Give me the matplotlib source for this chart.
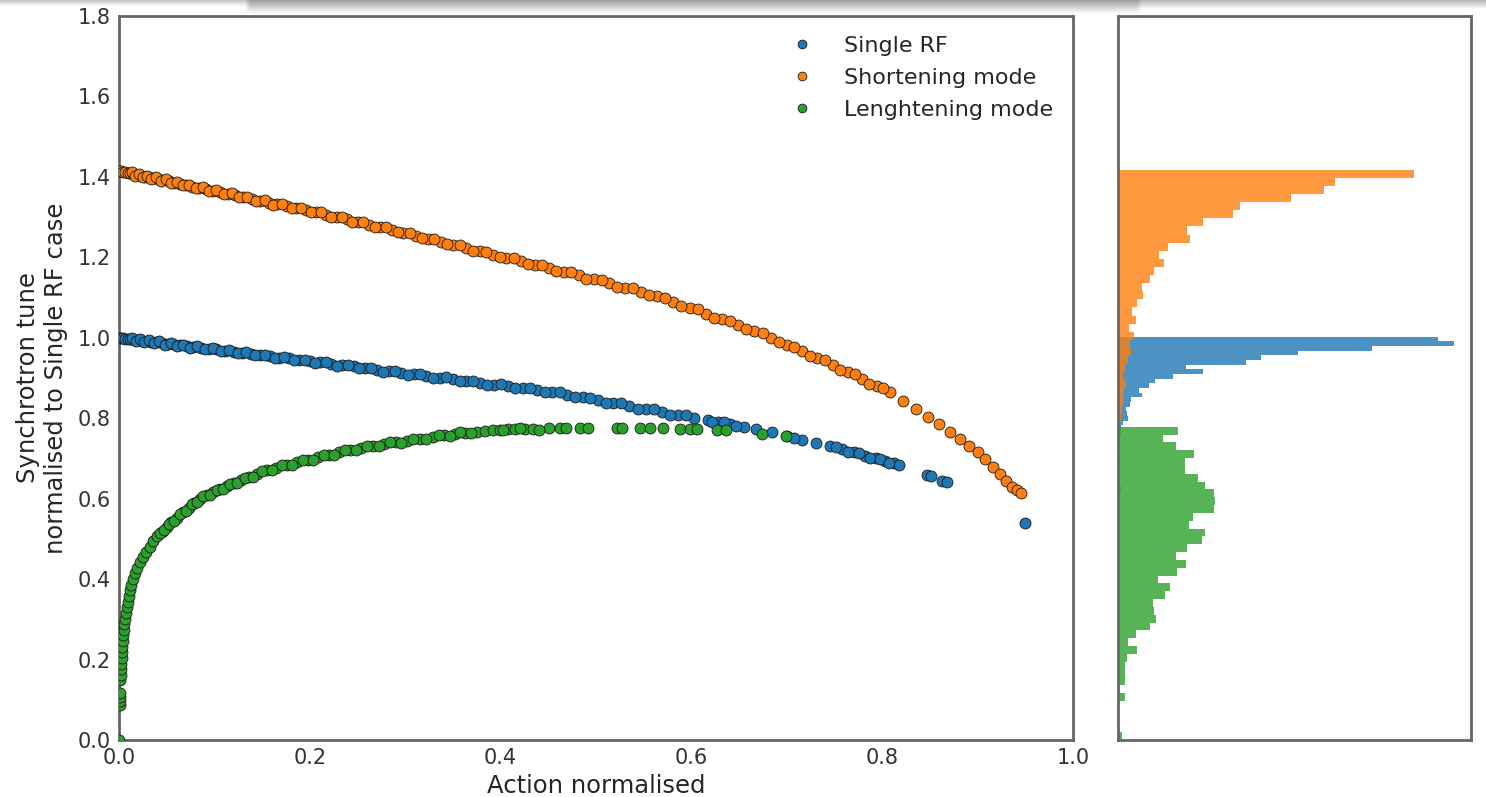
import numpy as np
import matplotlib
matplotlib.use("Agg")
import matplotlib.pyplot as plt

# --- scatter data ---
single_x = [0.000, 0.002, 0.004, 0.006, 0.009, 0.012, 0.016, 0.020, 0.024, 0.029,
            0.034, 0.039, 0.045, 0.051, 0.057, 0.064, 0.071, 0.078, 0.086, 0.094,
            0.102, 0.111, 0.120, 0.129, 0.138, 0.148, 0.158, 0.168, 0.178, 0.189,
            0.200, 0.211, 0.222, 0.234, 0.246, 0.258, 0.270, 0.283, 0.296, 0.309,
            0.322, 0.336, 0.350, 0.364, 0.378, 0.393, 0.408, 0.423, 0.438, 0.454,
            0.470, 0.486, 0.502, 0.518, 0.535, 0.552, 0.569, 0.586, 0.603, 0.617,
            0.628, 0.640, 0.655, 0.668, 0.684, 0.700, 0.716, 0.731, 0.745, 0.758,
            0.770, 0.782, 0.793, 0.803, 0.812, 0.818, 0.847, 0.851, 0.863, 0.868,
            0.950]
single_y = [1.000, 0.999, 0.999, 0.998, 0.997, 0.997, 0.995, 0.994, 0.993, 0.992,
            0.990, 0.989, 0.987, 0.985, 0.984, 0.982, 0.979, 0.977, 0.975, 0.973,
            0.971, 0.968, 0.965, 0.963, 0.960, 0.957, 0.954, 0.951, 0.949, 0.945,
            0.942, 0.939, 0.936, 0.932, 0.929, 0.925, 0.921, 0.917, 0.913, 0.909,
            0.905, 0.901, 0.897, 0.892, 0.888, 0.883, 0.879, 0.874, 0.869, 0.864,
            0.859, 0.852, 0.845, 0.838, 0.830, 0.823, 0.815, 0.808, 0.800, 0.795,
            0.790, 0.785, 0.778, 0.773, 0.765, 0.756, 0.747, 0.739, 0.731, 0.723,
            0.715, 0.707, 0.700, 0.694, 0.688, 0.683, 0.660, 0.657, 0.645, 0.641,
            0.539]
# more single RF points where the band is dense
single_x2 = [0.014, 0.018, 0.022, 0.0265, 0.0315, 0.0365, 0.042, 0.048, 0.054, 0.0605,
             0.0675, 0.0745, 0.082, 0.090, 0.098, 0.1065, 0.1155, 0.1245, 0.1335, 0.143,
             0.153, 0.163, 0.173, 0.1835, 0.1945, 0.2055, 0.2165, 0.228, 0.240, 0.252,
             0.264, 0.2765, 0.2895, 0.3025, 0.3155, 0.329, 0.343, 0.357, 0.371, 0.3855,
             0.4005, 0.4155, 0.4305, 0.446, 0.462, 0.478, 0.494, 0.510, 0.5265, 0.5435,
             0.5605, 0.5775, 0.5945, 0.622, 0.634, 0.647, 0.708, 0.7515, 0.764, 0.776,
             0.7875, 0.798, 0.8075]
single_y2 = [0.999, 0.992, 0.996, 0.990, 0.994, 0.987, 0.991, 0.983, 0.987, 0.980,
             0.983, 0.975, 0.979, 0.971, 0.975, 0.967, 0.969, 0.961, 0.964, 0.956,
             0.958, 0.950, 0.953, 0.944, 0.946, 0.938, 0.940, 0.931, 0.933, 0.924,
             0.926, 0.916, 0.918, 0.908, 0.910, 0.900, 0.902, 0.892, 0.893, 0.883,
             0.884, 0.874, 0.874, 0.864, 0.864, 0.853, 0.851, 0.839, 0.837, 0.824,
             0.822, 0.809, 0.807, 0.790, 0.790, 0.780, 0.750, 0.729, 0.717, 0.713,
             0.701, 0.699, 0.689]

short_x = [0.000, 0.002, 0.004, 0.006, 0.009, 0.012, 0.015, 0.019, 0.023, 0.027,
           0.031, 0.036, 0.041, 0.046, 0.052, 0.058, 0.064, 0.070, 0.077, 0.084,
           0.091, 0.098, 0.106, 0.114, 0.122, 0.130, 0.139, 0.148, 0.157, 0.166,
           0.176, 0.186, 0.196, 0.206, 0.217, 0.228, 0.239, 0.250, 0.262, 0.274,
           0.286, 0.298, 0.311, 0.324, 0.337, 0.350, 0.364, 0.378, 0.392, 0.406,
           0.421, 0.436, 0.451, 0.466, 0.482, 0.498, 0.514, 0.530, 0.547, 0.564,
           0.581, 0.598, 0.615, 0.632, 0.649, 0.666, 0.683, 0.700, 0.716, 0.732,
           0.748, 0.764, 0.779, 0.794, 0.808, 0.822, 0.835, 0.848, 0.860, 0.871,
           0.881, 0.891, 0.900, 0.908, 0.916, 0.923, 0.930, 0.936, 0.941, 0.945]
short_y = [1.415, 1.414, 1.413, 1.412, 1.410, 1.409, 1.407, 1.405, 1.403, 1.401,
           1.399, 1.397, 1.394, 1.392, 1.389, 1.386, 1.383, 1.380, 1.376, 1.373,
           1.369, 1.366, 1.362, 1.358, 1.354, 1.350, 1.345, 1.341, 1.336, 1.332,
           1.327, 1.322, 1.317, 1.312, 1.306, 1.301, 1.295, 1.288, 1.281, 1.275,
           1.268, 1.261, 1.253, 1.246, 1.238, 1.231, 1.223, 1.215, 1.207, 1.199,
           1.190, 1.181, 1.173, 1.164, 1.155, 1.145, 1.135, 1.125, 1.114, 1.104,
           1.090, 1.075, 1.060, 1.046, 1.031, 1.016, 1.000, 0.983, 0.966, 0.950,
           0.933, 0.915, 0.898, 0.880, 0.864, 0.844, 0.824, 0.804, 0.785, 0.766,
           0.749, 0.731, 0.715, 0.699, 0.679, 0.662, 0.645, 0.630, 0.622, 0.613]
short_x2 = [0.0135, 0.017, 0.021, 0.025, 0.029, 0.0335, 0.0385, 0.0435, 0.049, 0.055,
            0.061, 0.067, 0.0735, 0.0805, 0.0875, 0.0945, 0.102, 0.110, 0.118, 0.126,
            0.1345, 0.1435, 0.1525, 0.1615, 0.171, 0.181, 0.191, 0.201, 0.2115, 0.2225,
            0.2335, 0.2445, 0.256, 0.268, 0.280, 0.292, 0.3045, 0.3175, 0.3305, 0.3435,
            0.357, 0.371, 0.385, 0.399, 0.4135, 0.4285, 0.4435, 0.4585, 0.474, 0.490,
            0.506, 0.522, 0.5385, 0.5555, 0.5725, 0.5895, 0.6065, 0.6235, 0.6405, 0.6575,
            0.6745, 0.6915, 0.708, 0.724, 0.740, 0.756, 0.7715, 0.7865, 0.801]
short_y2 = [1.411, 1.403, 1.407, 1.399, 1.403, 1.395, 1.399, 1.390, 1.394, 1.385,
            1.388, 1.379, 1.381, 1.372, 1.374, 1.365, 1.367, 1.357, 1.359, 1.349,
            1.351, 1.340, 1.342, 1.331, 1.333, 1.322, 1.323, 1.312, 1.312, 1.301,
            1.301, 1.289, 1.288, 1.275, 1.275, 1.262, 1.260, 1.247, 1.245, 1.232,
            1.230, 1.216, 1.214, 1.200, 1.198, 1.183, 1.180, 1.166, 1.163, 1.147,
            1.143, 1.127, 1.123, 1.106, 1.100, 1.080, 1.071, 1.050, 1.042, 1.021,
            1.011, 0.989, 0.977, 0.955, 0.944, 0.921, 0.909, 0.886, 0.874]

long_x = [0.000, 0.001, 0.001, 0.001, 0.001, 0.001, 0.002, 0.002, 0.002, 0.003,
          0.003, 0.003, 0.004, 0.004, 0.005, 0.005, 0.006, 0.007, 0.008, 0.009,
          0.010, 0.012, 0.013, 0.015, 0.017, 0.019, 0.022, 0.025, 0.028, 0.032,
          0.036, 0.040, 0.045, 0.050, 0.055, 0.061, 0.067, 0.073, 0.079, 0.085,
          0.092, 0.099, 0.106, 0.113, 0.120, 0.128, 0.136, 0.145, 0.155, 0.165,
          0.176, 0.187, 0.198, 0.209, 0.220, 0.231, 0.242, 0.254, 0.266, 0.278,
          0.290, 0.302, 0.315, 0.329, 0.341, 0.352, 0.363, 0.375, 0.384, 0.392,
          0.399, 0.408, 0.415, 0.426, 0.434, 0.451, 0.462, 0.469, 0.483, 0.492,
          0.522, 0.527, 0.546, 0.557, 0.570, 0.588, 0.598, 0.606, 0.627, 0.636,
          0.674, 0.699]
long_y = [0.000, 0.088, 0.098, 0.108, 0.117, 0.148, 0.162, 0.176, 0.190, 0.204,
          0.218, 0.232, 0.246, 0.260, 0.274, 0.288, 0.302, 0.316, 0.330, 0.344,
          0.358, 0.372, 0.386, 0.400, 0.414, 0.428, 0.442, 0.456, 0.468, 0.481,
          0.494, 0.506, 0.518, 0.530, 0.541, 0.553, 0.566, 0.577, 0.589, 0.600,
          0.608, 0.616, 0.623, 0.631, 0.638, 0.646, 0.653, 0.662, 0.671, 0.677,
          0.684, 0.690, 0.697, 0.703, 0.709, 0.715, 0.721, 0.726, 0.731, 0.735,
          0.740, 0.744, 0.749, 0.754, 0.758, 0.761, 0.764, 0.767, 0.769, 0.771,
          0.772, 0.773, 0.773, 0.774, 0.774, 0.775, 0.775, 0.775, 0.776, 0.776,
          0.775, 0.776, 0.775, 0.775, 0.775, 0.774, 0.773, 0.774, 0.770, 0.770,
          0.762, 0.755]
long_x2 = [0.0425, 0.0475, 0.0525, 0.058, 0.064, 0.070, 0.076, 0.082, 0.0885, 0.0955,
           0.1025, 0.1095, 0.1165, 0.124, 0.132, 0.1405, 0.150, 0.160, 0.1705, 0.1815,
           0.1925, 0.2035, 0.2145, 0.2255, 0.2365, 0.248, 0.260, 0.272, 0.284, 0.296,
           0.3085, 0.322, 0.335, 0.3465, 0.3575, 0.369, 0.403, 0.420, 0.440]
long_y2 = [0.515, 0.521, 0.538, 0.544, 0.562, 0.569, 0.586, 0.592, 0.607, 0.609,
           0.622, 0.624, 0.637, 0.639, 0.652, 0.655, 0.669, 0.671, 0.683, 0.684,
           0.696, 0.697, 0.709, 0.709, 0.721, 0.721, 0.731, 0.730, 0.740, 0.739,
           0.749, 0.749, 0.759, 0.757, 0.765, 0.763, 0.771, 0.776, 0.772]

# --- histogram bin counts (40 bins each, bottom to top) ---
single_range = (0.539, 1.003)
single_counts = [1, 0, 0, 0, 1, 0, 1, 1, 0, 1,
                 1, 1, 1, 2, 1, 1, 2, 1, 2, 2,
                 3, 5, 10, 9, 8, 12, 13, 24, 21, 31,
                 37, 55, 85, 68, 128, 143, 180, 254, 336, 320]

short_range = (0.612, 1.418)
short_counts = [3, 2, 1, 1, 2, 1, 2, 3, 2, 3,
                4, 5, 6, 8, 5, 7, 10, 13, 12, 16,
                11, 18, 14, 19, 25, 24, 32, 36, 46, 41,
                50, 72, 69, 85, 115, 122, 173, 206, 217, 296]

long_range = (0.0, 0.779)
long_counts = [4, 0, 0, 0, 0, 7, 0, 7, 7, 7,
               9, 19, 10, 18, 32, 38, 36, 35, 47, 52,
               40, 59, 68, 58, 69, 84, 87, 71, 75, 96,
               97, 96, 87, 80, 67, 67, 76, 58, 45, 60]

labels = ["Single RF", "Shortening mode", "Lenghtening mode"]
colors = ["#1f77b4", "#ff7f0e", "#2ca02c"]

plt.rcParams["font.family"] = ["DejaVu Sans"]
fig = plt.figure(figsize=(14.86, 7.97), dpi=100)
fig.patch.set_facecolor("white")

# grey screenshot band along the top edge
band = fig.add_axes([0, 1 - 14 / 797, 1, 14 / 797], zorder=0)
shade_rows = np.linspace(0.62, 1.0, 14)[:, None]
shade_cols = np.ones((1, 300))
shade_cols[0, :50] = 1.25
shade_cols[0, 230:] = 1.15
band.imshow(np.clip(shade_rows * shade_cols, 0, 1), cmap="gray", vmin=0, vmax=1,
            aspect="auto", interpolation="bilinear")
band.set_axis_off()

ax = fig.add_axes([0.0801, 0.0715, 0.642, 0.9084], zorder=2)
hx = fig.add_axes([0.7524, 0.0715, 0.2375, 0.9084], sharey=ax, zorder=2)

series = [(single_x + single_x2, single_y + single_y2),
          (short_x + short_x2, short_y + short_y2),
          (long_x + long_x2, long_y + long_y2)]
for (xs, ys), lab, col in zip(series, labels, colors):
    ax.scatter(xs, ys, s=62, color=col, edgecolors="#1a1a1a", linewidths=0.6,
               label=lab, zorder=3)

ax.set_xlim(0, 1.0)
ax.set_ylim(0, 1.8)
ax.set_xticks(np.arange(0, 1.01, 0.2))
ax.set_yticks(np.arange(0, 1.81, 0.2))
ax.set_xlabel("Action normalised", fontsize=17.5, color="#262626", labelpad=4)
ax.set_ylabel("Synchrotron tune\nnormalised to Single RF case", fontsize=17.5,
              color="#262626", labelpad=7)
ax.tick_params(axis="both", length=0, labelsize=15, labelcolor="#333333", pad=6)

leg = ax.legend(loc="upper right", bbox_to_anchor=(1.0, 1.0), frameon=False,
                fontsize=16, markerscale=0.8, handletextpad=0.9, labelspacing=0.54,
                scatteryoffsets=[0.5])
for t in leg.get_texts():
    t.set_color("#262626")

# histograms: blue, then orange, then green on top
hist_sets = [(single_range, single_counts, colors[0]),
             (short_range, short_counts, colors[1]),
             (long_range, long_counts, colors[2])]
for (lo, hi), counts, col in hist_sets:
    edges = np.linspace(lo, hi, len(counts) + 1)
    centers = 0.5 * (edges[:-1] + edges[1:])
    hx.hist(centers, bins=edges, weights=counts, orientation="horizontal",
            color=col, alpha=0.8, linewidth=0)

hx.set_xlim(0, 353)
hx.set_xticks([])
hx.tick_params(axis="y", length=0, labelleft=False)

for a in (ax, hx):
    for sp in a.spines.values():
        sp.set_color("#666666")
        sp.set_linewidth(2.0)

fig.savefig("out.png", dpi=100, facecolor="white")
